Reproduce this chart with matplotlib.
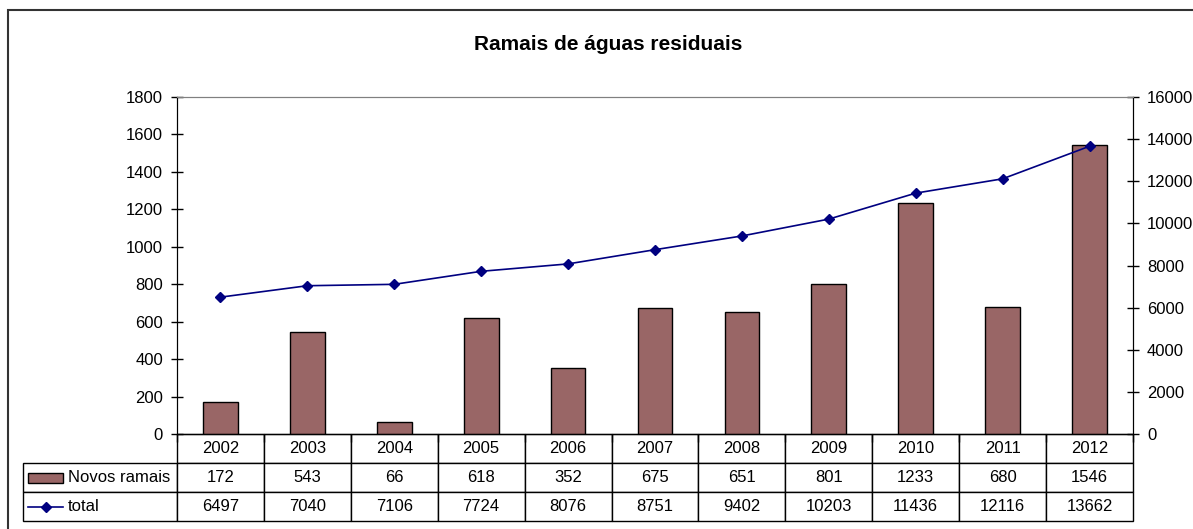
import numpy as np
import matplotlib.pyplot as plt
from matplotlib.patches import Rectangle
from matplotlib.lines import Line2D
from matplotlib.table import Table

plt.rcParams['font.family'] = ['Liberation Sans', 'DejaVu Sans']

###### dados ######
anos = ['2002', '2003', '2004', '2005', '2006', '2007', '2008', '2009', '2010', '2011', '2012']
novos_ramais = [172, 543, 66, 618, 352, 675, 651, 801, 1233, 680, 1546]
total = [6497, 7040, 7106, 7724, 8076, 8751, 9402, 10203, 11436, 12116, 13662]

cor_barra = '#996666'
cor_linha = '#000080'

W, H = 1193, 529
fig = plt.figure(figsize=(W / 100, H / 100), dpi=100)

# moldura exterior
fig.patches.append(Rectangle((8 / W, -0.1), 1.2, 1.1 - 10 / H, transform=fig.transFigure,
                             fill=False, edgecolor='#333333', lw=1.5))

x0, x1, ytop, ybot = 177, 1133, 97, 434
ax = fig.add_axes([x0 / W, 1 - ybot / H, (x1 - x0) / W, (ybot - ytop) / H])
ax2 = ax.twinx()

x = np.arange(len(anos))
ax.bar(x, novos_ramais, width=0.4, color=cor_barra, edgecolor='black', lw=1, zorder=2)
ax2.plot(x, total, color=cor_linha, lw=1.2, marker='D', markersize=5, zorder=3)

ax.set_xlim(-0.5, len(anos) - 0.5)
ax.set_ylim(0, 1800)
ax.set_yticks(np.arange(0, 1801, 200))
ax2.set_ylim(0, 16000)
ax2.set_yticks(np.arange(0, 16001, 2000))
ax.set_xticks(np.arange(-0.5, len(anos), 1))
ax.set_xticklabels([])
ax.tick_params(axis='x', direction='out', length=6, width=1)
ax.tick_params(axis='y', direction='inout', length=8, width=1, labelsize=12, pad=6)
ax2.tick_params(axis='y', direction='inout', length=8, width=1, labelsize=12, pad=6)

for a in (ax, ax2):
    a.spines['top'].set_color('#808080')
    a.spines['left'].set_color('black')
    a.spines['right'].set_color('black')
    a.spines['bottom'].set_color('black')

fig.text(608 / W, 1 - 44 / H, 'Ramais de águas residuais', ha='center', va='center',
         fontsize=15, fontweight='bold')

###### tabela de dados ######
tl = 23
row_h = 29
largura_ax = x1 - x0
altura_ax = ybot - ytop
col_w = 1 / len(anos)
lab_w = (x0 - tl) / largura_ax
cel_h = row_h / altura_ax

# o bbox vale só para as células de dados; os rótulos ficam à esquerda
tab = Table(ax, bbox=[0, -3 * cel_h, 1, 3 * cel_h])
linhas = [anos, [str(v) for v in novos_ramais], [str(v) for v in total]]
for r, valores in enumerate(linhas):
    for c, v in enumerate(valores):
        tab.add_cell(r, c, width=col_w, height=cel_h, text=v, loc='center')
    if r > 0:
        tab.add_cell(r, -1, width=lab_w, height=cel_h, text='')
tab.auto_set_font_size(False)
tab.set_fontsize(12)
for cell in tab.get_celld().values():
    cell.set_edgecolor('black')
    cell.set_linewidth(1)
ax.add_table(tab)

# legendas nas células
def px2ax(px, py):
    return (px - x0) / largura_ax, (ybot - py) / altura_ax

yr1 = ybot + 1.5 * row_h
yr2 = ybot + 2.5 * row_h
bx, by = px2ax(28, yr1 + 5)
bw = 35 / largura_ax
bh = 10 / altura_ax
ax.add_patch(Rectangle((bx, by), bw, bh, transform=ax.transAxes, clip_on=False,
                       facecolor=cor_barra, edgecolor='black', lw=1))
lx0, ly = px2ax(28, yr2)
lx1, _ = px2ax(63, yr2)
ax.add_line(Line2D([lx0, lx1], [ly, ly], transform=ax.transAxes, clip_on=False,
                   color=cor_linha, lw=1.2))
ax.add_line(Line2D([(lx0 + lx1) / 2], [ly], transform=ax.transAxes, clip_on=False,
                   color=cor_linha, marker='D', markersize=5))
tx, ty = px2ax(68, yr1)
ax.text(tx, ty, 'Novos ramais', transform=ax.transAxes, ha='left', va='center', fontsize=12)
tx, ty = px2ax(68, yr2)
ax.text(tx, ty, 'total', transform=ax.transAxes, ha='left', va='center', fontsize=12)

fig.savefig('out.png', dpi=100)
